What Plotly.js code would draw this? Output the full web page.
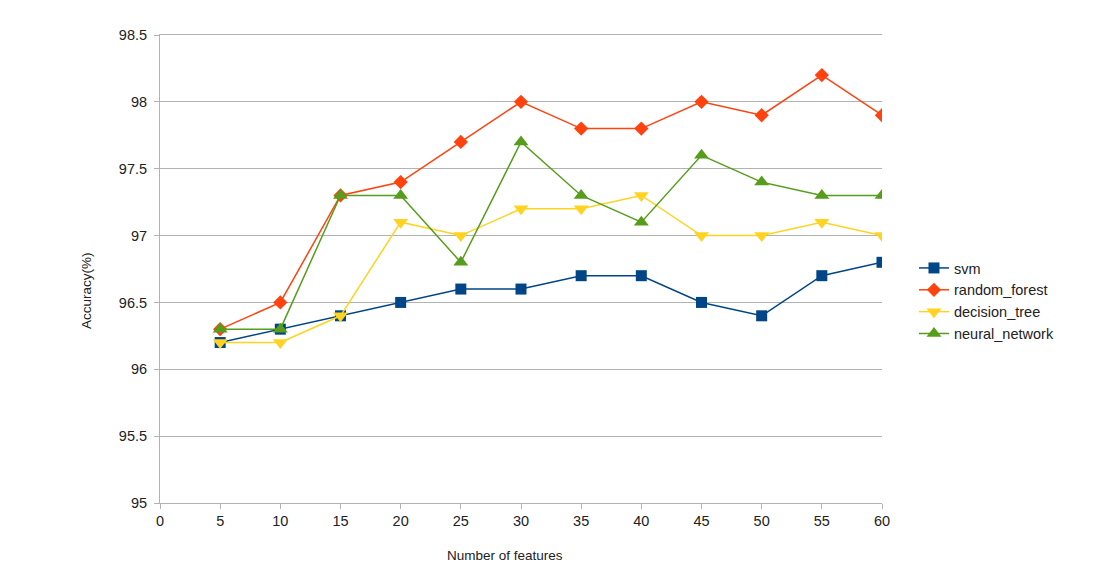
<!DOCTYPE html>
<html>
<head>
<meta charset="utf-8">
<script src="https://cdn.plot.ly/plotly-3.0.1.min.js"></script>
<style>html,body{margin:0;padding:0;background:#fff;}#chart{width:1104px;height:571px;}</style>
</head>
<body>
<div id="chart"></div>
<script>
const features = [5, 10, 15, 20, 25, 30, 35, 40, 45, 50, 55, 60];
const svm = [96.2, 96.3, 96.4, 96.5, 96.6, 96.6, 96.7, 96.7, 96.5, 96.4, 96.7, 96.8];
const randomForest = [96.3, 96.5, 97.3, 97.4, 97.7, 98.0, 97.8, 97.8, 98.0, 97.9, 98.2, 97.9];
const decisionTree = [96.2, 96.2, 96.4, 97.1, 97.0, 97.2, 97.2, 97.3, 97.0, 97.0, 97.1, 97.0];
const neuralNetwork = [96.3, 96.3, 97.3, 97.3, 96.8, 97.7, 97.3, 97.1, 97.6, 97.4, 97.3, 97.3];

function tr(name, y, color, symbol, size) {
  return {x: features, y: y, name: name, type: 'scatter', mode: 'lines+markers',
    line: {color: color, width: 1.5}, marker: {color: color, symbol: symbol, size: size}};
}
const data = [
  tr('svm', svm, '#004586', 'square', 11),
  tr('random_forest', randomForest, '#ff420e', 'diamond', 11),
  tr('decision_tree', decisionTree, '#ffd320', 'triangle-down', 13),
  tr('neural_network', neuralNetwork, '#579d1c', 'triangle-up', 13)
];
const layout = {
  width: 1104, height: 571,
  margin: {l: 160, r: 222, t: 35, b: 68},
  paper_bgcolor: '#fff', plot_bgcolor: '#fff',
  font: {family: 'Liberation Sans, Arial, sans-serif', size: 14.5, color: '#222'},
  showlegend: true,
  legend: {x: 0.0443 + 1, y: 0.4316, xanchor: 'left', yanchor: 'middle', font: {size: 14.5}, tracegroupgap: 0},
  xaxis: {range: [0, 60], dtick: 5, tick0: 0, showgrid: false, zeroline: false,
    showline: true, linecolor: '#b3b3b3', linewidth: 1, mirror: true,
    ticks: 'outside', ticklen: 5, tickcolor: '#b3b3b3'},
  yaxis: {range: [95, 98.5], dtick: 0.5, tick0: 95, showgrid: true, gridcolor: '#b3b3b3', zeroline: false,
    showline: true, linecolor: '#b3b3b3', linewidth: 1,
    ticks: 'outside', ticklen: 5, tickcolor: '#b3b3b3', ticklabelstandoff: 4},
  annotations: [
    {text: 'Number of features', xref: 'paper', yref: 'paper', x: 0.4778, y: -0.1132,
      xanchor: 'center', yanchor: 'middle', showarrow: false, font: {size: 13.5}},
    {text: 'Accuracy(%)', xref: 'paper', yref: 'paper', x: -0.1011, y: 0.453, textangle: -90,
      xanchor: 'center', yanchor: 'middle', showarrow: false, font: {size: 13.5}}
  ]
};
Plotly.newPlot('chart', data, layout, {displayModeBar: false});
</script>
</body>
</html>
